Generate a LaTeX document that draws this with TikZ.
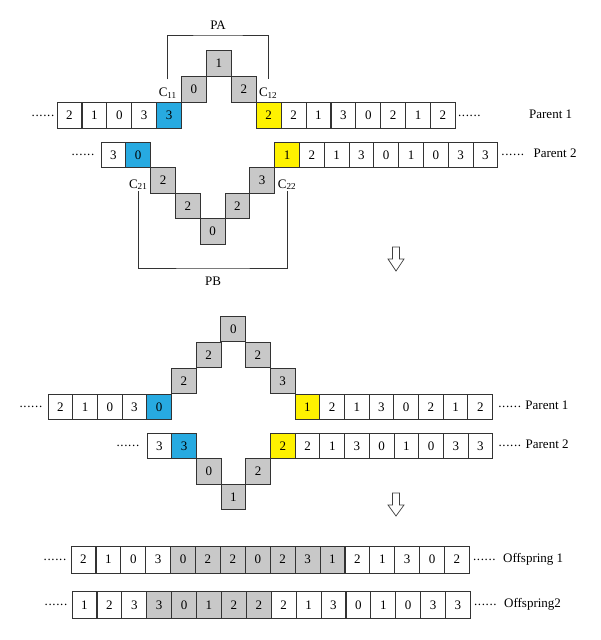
\documentclass[tikz,border=0pt]{standalone}
\usepackage{fontspec}
\setmainfont{Liberation Serif}
\usetikzlibrary{positioning}
\definecolor{cutBlue}{HTML}{27AAE1}
\definecolor{cutYel}{HTML}{FFF200}
\definecolor{cutGray}{HTML}{C8C8C8}

\begin{document}
\begin{tikzpicture}[x=1pt, y=-1pt,
    gene/.style={
        draw=black!80,
        line width=0.9pt,
        fill=white,
        minimum width=24.8pt,
        minimum height=25.6pt,
        inner sep=0pt,
        font=\fontsize{13}{15}\selectfont
    },
    geneOff/.style={
        gene,
        minimum height=27pt
    },
    dotsTag/.style={
        inner sep=0pt,
        font=\fontsize{13}{15}\selectfont\addfontfeature{LetterSpace=5}
    },
    rowTag/.style={
        inner sep=0pt,
        text height=1.5ex,
        text depth=0.25ex,
        font=\fontsize{13}{15}\selectfont
    },
    cutTag/.style={
        inner sep=0pt,
        font=\fontsize{13}{15}\selectfont
    },
    bracket/.style={
        draw=black!80,
        line width=0.8pt
    },
    hollowArrow/.style={
        draw=black!75,
        line width=0.7pt,
        fill=white,
        line join=miter
    }
]
\useasboundingbox (0,0) rectangle (600,640);

% parents before crossover
\foreach \v/\lv/\fc [count=\i from 0] in {
    2/0/white, 1/0/white, 0/0/white, 3/0/white, 3/0/cutBlue,
    0/1/cutGray, 1/2/cutGray, 2/1/cutGray, 2/0/cutYel,
    2/0/white, 1/0/white, 3/0/white, 0/0/white, 2/0/white, 1/0/white, 2/0/white}
    \node[gene, fill=\fc] (tA-\i) at ({69.45+24.9*\i},{115.5-26*\lv}) {\v};

\foreach \v/\lv/\fc [count=\i from 0] in {
    3/0/white, 0/0/cutBlue,
    2/1/cutGray, 2/2/cutGray, 0/3/cutGray, 2/2/cutGray, 3/1/cutGray, 1/0/cutYel,
    2/0/white, 1/0/white, 3/0/white, 0/0/white, 1/0/white, 0/0/white, 3/0/white, 3/0/white}
    \node[gene, fill=\fc] (tB-\i) at ({113.4+24.8*\i},{155+25.5*\lv}) {\v};

\node[dotsTag, left=2pt of tA-0] (tAdotL) {......};
\node[dotsTag, right=2pt of tA-15] (tAdotR) {......};
\node[rowTag, right=48pt of tAdotR] (tAtag) {Parent 1};

\node[dotsTag, left=6pt of tB-0] (tBdotL) {......};
\node[dotsTag, right=3pt of tB-15] (tBdotR) {......};
\node[rowTag, right=9pt of tBdotR] (tBtag) {Parent 2};

% cut points
\node[cutTag, above left=4pt and 5pt of tA-4.north east] (c11) {C\textsubscript{11}};
\node[cutTag, above right=4pt and 3pt of tA-8.north west] (c12) {C\textsubscript{12}};
\node[cutTag, below=11pt of tB-1.south] (c21) {C\textsubscript{21}};
\node[cutTag, below=11pt of tB-7.south] (c22) {C\textsubscript{22}};

\coordinate (paMid) at (218,35);
\coordinate (pbMid) at (213,268);
\draw[bracket] ([yshift=8pt]c11.north) |- (paMid) -| ([yshift=8pt]c12.north);
\draw[bracket] ([yshift=-1pt]c21.south) |- (pbMid) -| ([yshift=-1pt]c22.south);
\node[cutTag, above=5pt of paMid] (pa) {PA};
\node[cutTag, below=9pt of pbMid] (pb) {PB};

\draw[hollowArrow]
(392.5,247) -- (399.5,247) -- (399.5,259) -- (404,259)
-- (396,271) -- (388,259) -- (392.5,259) -- cycle;

% parents after swapping the segments
\foreach \v/\lv/\fc [count=\i from 0] in {
    2/0/white, 1/0/white, 0/0/white, 3/0/white, 0/0/cutBlue,
    2/1/cutGray, 2/2/cutGray, 0/3/cutGray, 2/2/cutGray, 3/1/cutGray, 1/0/cutYel,
    2/0/white, 1/0/white, 3/0/white, 0/0/white, 2/0/white, 1/0/white, 2/0/white}
    \node[gene, fill=\fc] (mA-\i) at ({60.35+24.7*\i},{407-26*\lv}) {\v};

\foreach \v/\lv/\fc [count=\i from 0] in {
    3/0/white, 3/0/cutBlue,
    0/1/cutGray, 1/2/cutGray, 2/1/cutGray, 2/0/cutYel,
    2/0/white, 1/0/white, 3/0/white, 0/0/white, 1/0/white, 0/0/white, 3/0/white, 3/0/white}
    \node[gene, fill=\fc] (mB-\i) at ({159.35+24.7*\i},{446+25.5*\lv}) {\v};

\node[dotsTag, left=5pt of mA-0] (mAdotL) {......};
\node[dotsTag, right=5pt of mA-17] (mAdotR) {......};
\node[rowTag, right=4pt of mAdotR] (mAtag) {Parent 1};

\node[dotsTag, left=7pt of mB-0] (mBdotL) {......};
\node[dotsTag, right=5pt of mB-13] (mBdotR) {......};
\node[rowTag, right=4pt of mBdotR] (mBtag) {Parent 2};

\draw[hollowArrow]
(392.5,493) -- (399.5,493) -- (399.5,505) -- (404,505)
-- (396,516) -- (388,505) -- (392.5,505) -- cycle;

% offspring
\foreach \v/\fc [count=\i from 0] in {
    2/white, 1/white, 0/white, 3/white,
    0/cutGray, 2/cutGray, 2/cutGray, 0/cutGray, 2/cutGray, 3/cutGray, 1/cutGray,
    2/white, 1/white, 3/white, 0/white, 2/white}
    \node[geneOff, fill=\fc] (oA-\i) at ({83.45+24.9*\i},559.5) {\v};

\foreach \v/\fc [count=\i from 0] in {
    1/white, 2/white, 3/white,
    3/cutGray, 0/cutGray, 1/cutGray, 2/cutGray, 2/cutGray,
    2/white, 1/white, 3/white, 0/white, 1/white, 0/white, 3/white, 3/white}
    \node[geneOff, fill=\fc] (oB-\i) at ({84.45+24.9*\i},605) {\v};

\node[dotsTag, left=4pt of oA-0] (oAdotL) {......};
\node[dotsTag, right=3pt of oA-15] (oAdotR) {......};
\node[rowTag, right=7pt of oAdotR] (oAtag) {Offspring 1};

\node[dotsTag, left=4pt of oB-0] (oBdotL) {......};
\node[dotsTag, right=3pt of oB-15] (oBdotR) {......};
\node[rowTag, right=7pt of oBdotR] (oBtag) {Offspring2};
\end{tikzpicture}
\end{document}
